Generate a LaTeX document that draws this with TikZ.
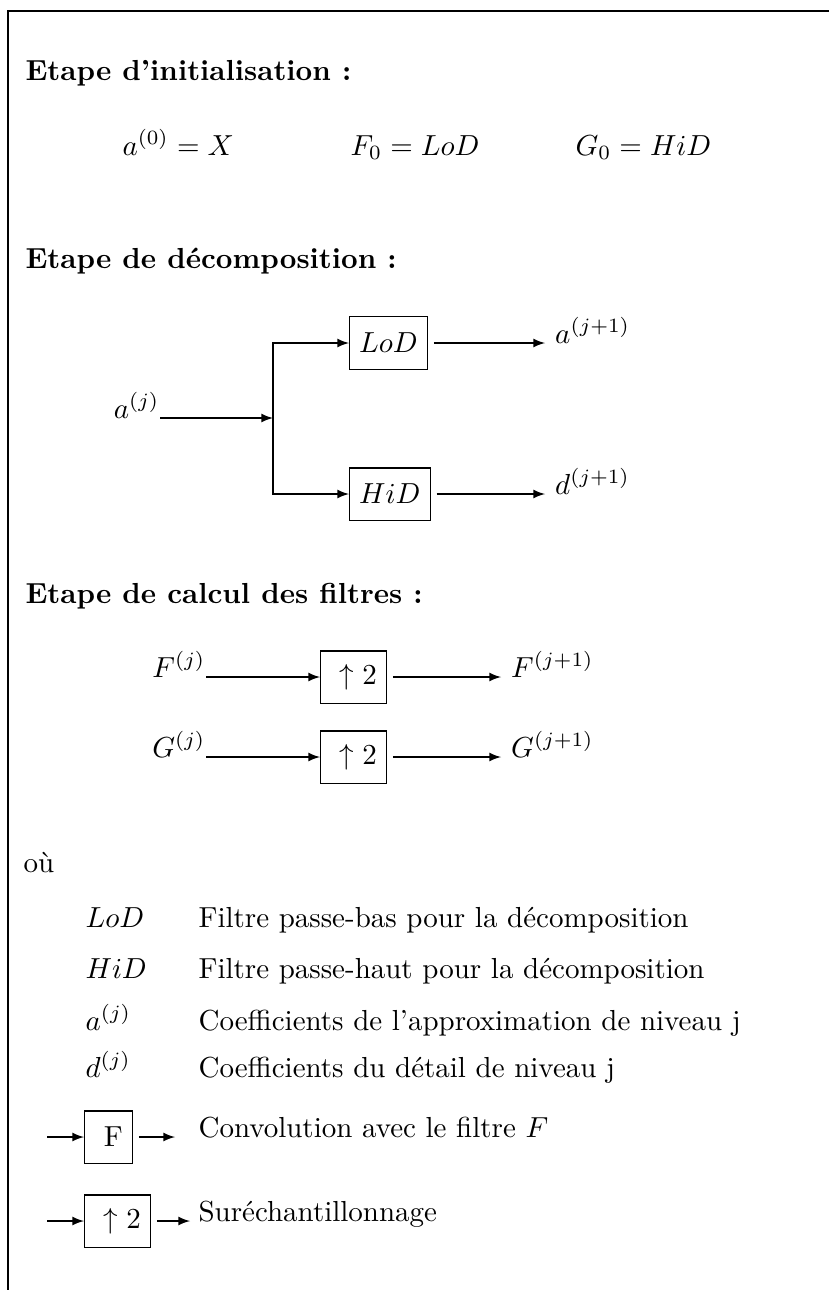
\documentclass[tikz,border=0pt]{standalone}
\usepackage{amsmath}
\usepackage{tikz}
\usetikzlibrary{arrows}

\begin{document}
\begin{tikzpicture}[x=0.345pt, y=-0.345pt,
        blk/.style={draw, minimum height=18pt, inner sep=3.33pt},
        lblin/.style={anchor=base east, inner sep=0pt},
        lblout/.style={anchor=base west},
        txt/.style={anchor=base west, inner sep=0pt},
        hdr/.style={txt, font=\bfseries},
        sig/.style={-latex},
        sigout/.style={-latex, shorten <=2pt}
    ]
    \useasboundingbox (0,0) rectangle (829,1290);
    % Frame
    \draw (829,11) -- (8,11) -- (8,1290);

    % ---- Initialisation ----
    \node[hdr] (hinit) at (25,80) {Etape d'initialisation :};
    \node[txt] (eqa) at (122,155) {$a^{(0)} = X$};
    \node[txt] (eqf) at (350,155) {$F_0 = LoD$};
    \node[txt] (eqg) at (575,155) {$G_0 = HiD$};

    % ---- Decomposition ----
    \node[hdr] (hdec) at (25,268) {Etape de décomposition :};
    \node[lblin] (aj) at (160,418) {$a^{(j)}$};
    \coordinate (split) at (273,418);
    \node[blk, anchor=west] (lod) at (349,343) {$LoD$};
    \node[blk, anchor=west] (hid) at (349,494) {$HiD$};
    \node[lblout] (aj1) at (545,343) {$a^{(j+1)}$};
    \node[lblout] (dj1) at (545,494) {$d^{(j+1)}$};
    \draw[sig] (aj.base east) -- (split);
    \draw[sig] (split) |- (lod.west);
    \draw[sig] (split) |- (hid.west);
    \draw[sigout] (lod.east) -- (aj1.base west);
    \draw[sigout] (hid.east) -- (dj1.base west);

    % ---- Filtres ----
    \node[hdr] (hfil) at (25,603) {Etape de calcul des filtres :};
    \node[lblin] (fj) at (206,677) {$F^{(j)}$};
    \node[blk, anchor=west] (upf) at (320,677) {\ $\uparrow 2$};
    \node[lblout] (fj1) at (501,677) {$F^{(j+1)}$};
    \node[lblin] (gj) at (206,757) {$G^{(j)}$};
    \node[blk, anchor=west] (upg) at (320,757) {\ $\uparrow 2$};
    \node[lblout] (gj1) at (501,757) {$G^{(j+1)}$};
    \draw[sig] (fj.base east) -- (upf.west);
    \draw[sigout] (upf.east) -- (fj1.base west);
    \draw[sig] (gj.base east) -- (upg.west);
    \draw[sigout] (upg.east) -- (gj1.base west);

    % ---- Legende ----
    \node[txt] (ou) at (23,872) {où};
    \node[txt] (klod) at (85,927) {$LoD$};
    \node[txt] (tlod) at (198,927) {Filtre passe-bas pour la décomposition};
    \node[txt] (khid) at (85,978) {$HiD$};
    \node[txt] (thid) at (198,978) {Filtre passe-haut pour la décomposition};
    \node[txt] (ka) at (85,1030) {$a^{(j)}$};
    \node[txt] (ta) at (198,1030) {Coefficients de l'approximation de niveau j};
    \node[txt] (kd) at (85,1077) {$d^{(j)}$};
    \node[txt] (td) at (198,1077) {Coefficients du détail de niveau j};

    \coordinate (fin) at (47,1137);
    \node[blk, anchor=west] (kf) at (84,1137) {\ F};
    \coordinate (fout) at (175,1137);
    \node[txt] (tf) at (198,1137) {Convolution avec le filtre $F$};
    \draw[sig] (fin) -- (kf.west);
    \draw[sigout] (kf.east) -- (fout);

    \coordinate (upin) at (47,1221);
    \node[blk, anchor=west] (kup) at (84,1221) {\ $\uparrow 2$};
    \coordinate (upout) at (190,1221);
    \node[txt] (tup) at (198,1221) {Suréchantillonnage};
    \draw[sig] (upin) -- (kup.west);
    \draw[sigout] (kup.east) -- (upout);
\end{tikzpicture}
\end{document}
